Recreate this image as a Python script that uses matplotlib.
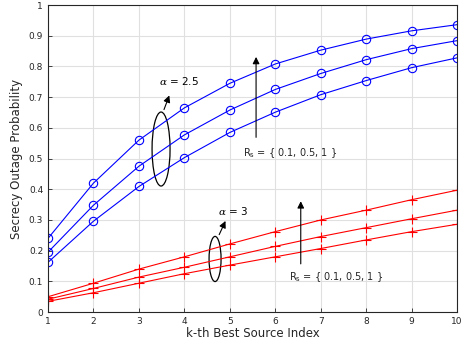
import matplotlib
matplotlib.use('Agg')
import matplotlib.pyplot as plt
from matplotlib.patches import Ellipse

plt.rcParams['mathtext.fontset'] = 'custom'
plt.rcParams['mathtext.it'] = 'DejaVu Serif:italic'
plt.rcParams['mathtext.rm'] = 'DejaVu Sans'

# k-th best source index
k = [1, 2, 3, 4, 5, 6, 7, 8, 9, 10]

# alpha = 2.5, Rs = 0.1, 0.5, 1
blue_top = [0.240, 0.420, 0.560, 0.665, 0.745, 0.808, 0.853, 0.889, 0.916, 0.936]
blue_mid = [0.195, 0.348, 0.475, 0.577, 0.658, 0.725, 0.777, 0.822, 0.858, 0.884]
blue_bot = [0.162, 0.296, 0.409, 0.503, 0.585, 0.651, 0.708, 0.754, 0.796, 0.828]

# alpha = 3, Rs = 0.1, 0.5, 1
red_top = [0.050, 0.094, 0.140, 0.180, 0.222, 0.262, 0.300, 0.332, 0.366, 0.397]
red_mid = [0.042, 0.077, 0.114, 0.146, 0.180, 0.214, 0.246, 0.275, 0.304, 0.332]
red_bot = [0.035, 0.063, 0.094, 0.125, 0.153, 0.180, 0.207, 0.235, 0.262, 0.286]

xticks = [1, 2, 3, 4, 5, 6, 7, 8, 9, 10]
yticks = [0, 0.1, 0.2, 0.3, 0.4, 0.5, 0.6, 0.7, 0.8, 0.9, 1]

fig = plt.figure(figsize=(4.66, 3.46), dpi=100)
ax = fig.add_axes([0.103, 0.098, 0.878, 0.8875])

for ys in (blue_top, blue_mid, blue_bot):
    ax.plot(k, ys, color='#0000ff', lw=0.8, marker='o', ms=6,
            mfc='none', mec='#0000ff', mew=0.8)
for ys in (red_top, red_mid, red_bot):
    ax.plot(k, ys, color='#ff0000', lw=0.8, marker='+', ms=7,
            mec='#ff0000', mew=0.8)

ax.set_xlim(1, 10)
ax.set_ylim(0, 1)
ax.set_xticks(xticks)
ax.set_yticks(yticks)
ax.set_xticklabels([str(t) for t in xticks])
ax.set_yticklabels(['0', '0.1', '0.2', '0.3', '0.4', '0.5', '0.6', '0.7', '0.8', '0.9', '1'])
ax.tick_params(direction='in', labelsize=6.5, colors='#262626', length=3, width=0.6)
ax.grid(True, color='#e0e0e0', lw=0.8)
ax.set_axisbelow(True)
for s in ax.spines.values():
    s.set_linewidth(0.8)
    s.set_color('#262626')

ax.set_xlabel('k-th Best Source Index', fontsize=8.5, color='#262626', labelpad=1)
ax.set_ylabel('Secrecy Outage Probability', fontsize=8.5, color='#262626', labelpad=4)

# annotations, alpha = 2.5
ax.add_patch(Ellipse((3.487, 0.531), 0.396, 0.241, fill=False, ec='black', lw=0.9))
ax.annotate('', xy=(3.69, 0.714), xytext=(3.53, 0.651),
            arrowprops=dict(arrowstyle='-|>', color='black', lw=0.8, mutation_scale=10))
ax.text(3.45, 0.752, r'$\alpha$ = 2.5', fontsize=7.5, va='center', ha='left')
ax.annotate('', xy=(5.577, 0.84), xytext=(5.577, 0.56),
            arrowprops=dict(arrowstyle='-|>', color='black', lw=0.8, mutation_scale=10))
ax.text(5.29, 0.518, r'R$_{\rm s}$ = { 0.1, 0.5, 1 }', fontsize=7, va='center', ha='left',
        color='#262626')

# annotations, alpha = 3
ax.add_patch(Ellipse((4.675, 0.173), 0.264, 0.147, fill=False, ec='black', lw=0.9))
ax.annotate('', xy=(4.93, 0.305), xytext=(4.74, 0.244),
            arrowprops=dict(arrowstyle='-|>', color='black', lw=0.8, mutation_scale=10))
ax.text(4.73, 0.329, r'$\alpha$ = 3', fontsize=7.5, va='center', ha='left')
ax.annotate('', xy=(6.56, 0.37), xytext=(6.56, 0.148),
            arrowprops=dict(arrowstyle='-|>', color='black', lw=0.8, mutation_scale=10))
ax.text(6.30, 0.114, r'R$_{\rm s}$ = { 0.1, 0.5, 1 }', fontsize=7, va='center', ha='left',
        color='#262626')

fig.savefig('out.png', dpi=100)
